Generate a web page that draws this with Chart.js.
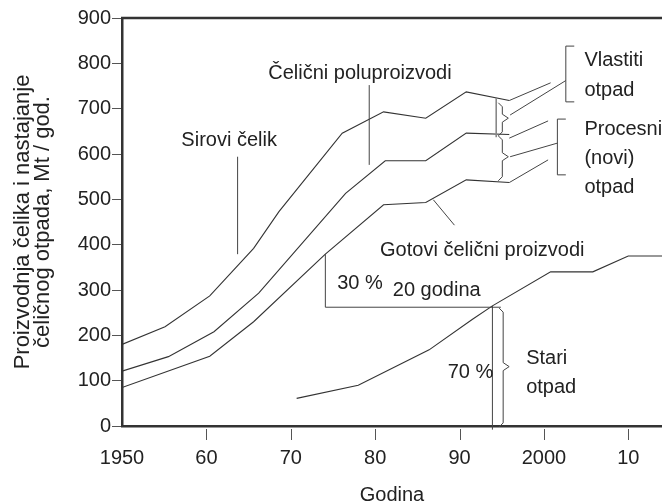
<!DOCTYPE html>
<html>
<head>
<meta charset="utf-8">
<script src="https://cdn.jsdelivr.net/npm/chart.js@4.4.1/dist/chart.umd.min.js"></script>
<style>
  html, body { margin: 0; padding: 0; background: #fff; }
  #wrap { width: 662px; height: 504px; }
</style>
</head>
<body>
<div id="wrap"><canvas id="chart"></canvas></div>
<script>
    // --- DATA ---
    const xTicks = [1950, 1960, 1970, 1980, 1990, 2000, 2010];
    const xTickLabels = ['1950', '60', '70', '80', '90', '2000', '10'];

    const sirYears  = [1950, 1955.1, 1960.4, 1965.6, 1968.6, 1976.1, 1981.0, 1986.0, 1990.8, 1995.9];
    const sirValues = [180, 219, 287, 392, 473, 646, 693, 679, 737, 718];

    const poluYears  = [1950, 1955.5, 1960.9, 1966.2, 1976.5, 1981.2, 1986.0, 1990.8, 1995.9];
    const poluValues = [121, 153, 208, 293, 513, 585, 585, 646, 643];

    const gotYears  = [1950, 1960.4, 1965.6, 1974.1, 1981.0, 1986.0, 1990.8, 1995.9];
    const gotValues = [85, 154, 230, 379, 488, 493, 543, 537];

    const stariYears  = [1970.7, 1978.0, 1986.4, 1991.5, 1993.9, 2000.8, 2005.8, 2010.0, 2014.2];
    const stariValues = [61, 90, 168, 235, 265, 340, 340, 375, 375];

    // --- ANNOTATIONS (year, value) ---
    const leaderLines = [
        [[1963.7, 594], [1963.7, 379]],
        [[1979.3, 752], [1979.3, 576]],
        [[1986.9, 499], [1989.4, 443]],
        [[1995.9, 718], [2000.8, 757]],
        [[1996.0, 686], [2002.6, 762]],
        [[1995.9, 635], [2000.5, 673]],
        [[1996.0, 594], [2001.6, 624]],
        [[1995.9, 537], [2000.5, 587]],
        [[1974.1, 379], [1974.1, 262], [1994.9, 262]],
        [[1993.9, 265], [1993.9, -8]],
        [[2003.6, 838], [2002.6, 838], [2002.6, 715], [2003.6, 715]],
        [[2002.6, 677], [2001.6, 677], [2001.6, 554], [2002.6, 554]]
    ];
    const grayLines = [
        [[1994.35, 724], [1994.35, 637]]
    ];
    // braces: year, top value, bottom value, tip value
    const braces = [
        [1994.6, 713, 640, 679],
        [1994.6, 640, 541, 594],
        [1994.7, 260, -2, 131]
    ];
    const labels = [
        ['Sirovi čelik', 1962.7, 629, 'center'],
        ['Čelični poluproizvodi', 1978.2, 777, 'center'],
        ['Gotovi čelični proizvodi', 1992.7, 388, 'center'],
        ['30 %', 1978.2, 315, 'center'],
        ['20 godina', 1987.3, 300, 'center'],
        ['70 %', 1991.3, 119, 'center'],
        ['Stari', 1997.9, 148, 'left'],
        ['otpad', 1997.9, 86, 'left'],
        ['Vlastiti', 2004.8, 807, 'left'],
        ['otpad', 2004.8, 741, 'left'],
        ['Procesni', 2004.8, 653, 'left'],
        ['(novi)', 2004.8, 591, 'left'],
        ['otpad', 2004.8, 527, 'left']
    ];

    const FONT = 'Liberation Sans';
    const pts = (xs, ys) => xs.map((x, i) => ({ x: x, y: ys[i] }));
    const lineSet = (xs, ys) => ({
        data: pts(xs, ys),
        borderColor: '#333',
        borderWidth: 1.1,
        pointRadius: 0,
        tension: 0
    });

    // --- EXTRA DRAWING ---
    const extras = {
        id: 'extras',
        afterDraw(chart) {
            const { ctx, chartArea, scales: { x, y } } = chart;
            const px = v => x.getPixelForValue(v);
            const py = v => y.getPixelForValue(v);
            ctx.save();
            // top frame line
            ctx.strokeStyle = '#333';
            ctx.lineWidth = 2.5;
            ctx.beginPath();
            ctx.moveTo(chartArea.left - 1, chartArea.top);
            ctx.lineTo(chartArea.right, chartArea.top);
            ctx.stroke();
            // x tick marks (with small gap under axis)
            ctx.lineWidth = 1;
            ctx.strokeStyle = '#555';
            xTicks.slice(1).forEach(v => {
                ctx.beginPath();
                ctx.moveTo(Math.round(px(v)) + 0.5, chartArea.bottom + 3);
                ctx.lineTo(Math.round(px(v)) + 0.5, chartArea.bottom + 14);
                ctx.stroke();
            });
            // leader lines
            ctx.strokeStyle = '#444';
            leaderLines.forEach(l => {
                ctx.beginPath();
                l.forEach((p, i) => i ? ctx.lineTo(px(p[0]), py(p[1])) : ctx.moveTo(px(p[0]), py(p[1])));
                ctx.stroke();
            });
            ctx.strokeStyle = '#888';
            ctx.lineWidth = 1.6;
            grayLines.forEach(l => {
                ctx.beginPath();
                ctx.moveTo(px(l[0][0]), py(l[0][1]));
                ctx.lineTo(px(l[1][0]), py(l[1][1]));
                ctx.stroke();
            });
            // braces
            ctx.strokeStyle = '#444';
            ctx.lineWidth = 1;
            braces.forEach(b => {
                const bx = px(b[0]), y1 = py(b[1]), y2 = py(b[2]), ym = py(b[3]);
                ctx.beginPath();
                ctx.moveTo(bx, y1);
                ctx.lineTo(bx + 4, y1 + 4);
                ctx.lineTo(bx + 4, ym - 4);
                ctx.lineTo(bx + 10, ym);
                ctx.lineTo(bx + 4, ym + 4);
                ctx.lineTo(bx + 4, y2 - 4);
                ctx.lineTo(bx, y2);
                ctx.stroke();
            });
            // texts
            ctx.fillStyle = '#222';
            ctx.font = '20px "' + FONT + '"';
            ctx.textBaseline = 'middle';
            labels.forEach(t => {
                ctx.textAlign = t[3];
                ctx.fillText(t[0], px(t[1]), py(t[2]));
            });
            ctx.restore();
        }
    };

    const ctx = document.getElementById('chart').getContext('2d');
    const steelChart = new Chart(ctx, {
        type: 'line',
        data: {
            datasets: [
                lineSet(sirYears, sirValues),
                lineSet(poluYears, poluValues),
                lineSet(gotYears, gotValues),
                lineSet(stariYears, stariValues)
            ]
        },
        options: {
            responsive: true,
            maintainAspectRatio: false,
            animation: false,
            layout: { padding: { top: 18, right: 0, left: 0, bottom: 0 } },
            scales: {
                x: {
                    type: 'linear',
                    min: 1950,
                    max: 2014,
                    afterBuildTicks: s => { s.ticks = xTicks.map(v => ({ value: v })); },
                    afterFit: s => { s.height = 78; },
                    grid: { drawOnChartArea: false, drawTicks: false },
                    border: { color: '#333', width: 2.5 },
                    ticks: {
                        autoSkip: false,
                        maxRotation: 0,
                        padding: 20,
                        color: '#222',
                        font: { family: FONT, size: 20 },
                        callback: (v, i) => xTickLabels[i]
                    },
                    title: {
                        display: true,
                        text: 'Godina',
                        color: '#222',
                        font: { family: FONT, size: 20 },
                        padding: { top: 0, bottom: -3 }
                    }
                },
                y: {
                    min: 0,
                    max: 900,
                    afterFit: s => { s.width = 122; },
                    grid: { drawOnChartArea: false, tickLength: 10, tickColor: '#555', tickWidth: 1 },
                    border: { color: '#333', width: 2.5 },
                    ticks: {
                        stepSize: 100,
                        padding: 1,
                        color: '#222',
                        font: { family: FONT, size: 20 }
                    },
                    title: {
                        display: true,
                        text: ['Proizvodnja čelika i nastajanje', 'čeličnog otpada, Mt / god.'],
                        color: '#222',
                        font: { family: FONT, size: 22, lineHeight: 0.95 },
                        padding: { top: 12, bottom: 0 }
                    }
                }
            },
            plugins: { legend: { display: false }, tooltip: { enabled: false } }
        },
        plugins: [extras]
    });
</script>
</body>
</html>
